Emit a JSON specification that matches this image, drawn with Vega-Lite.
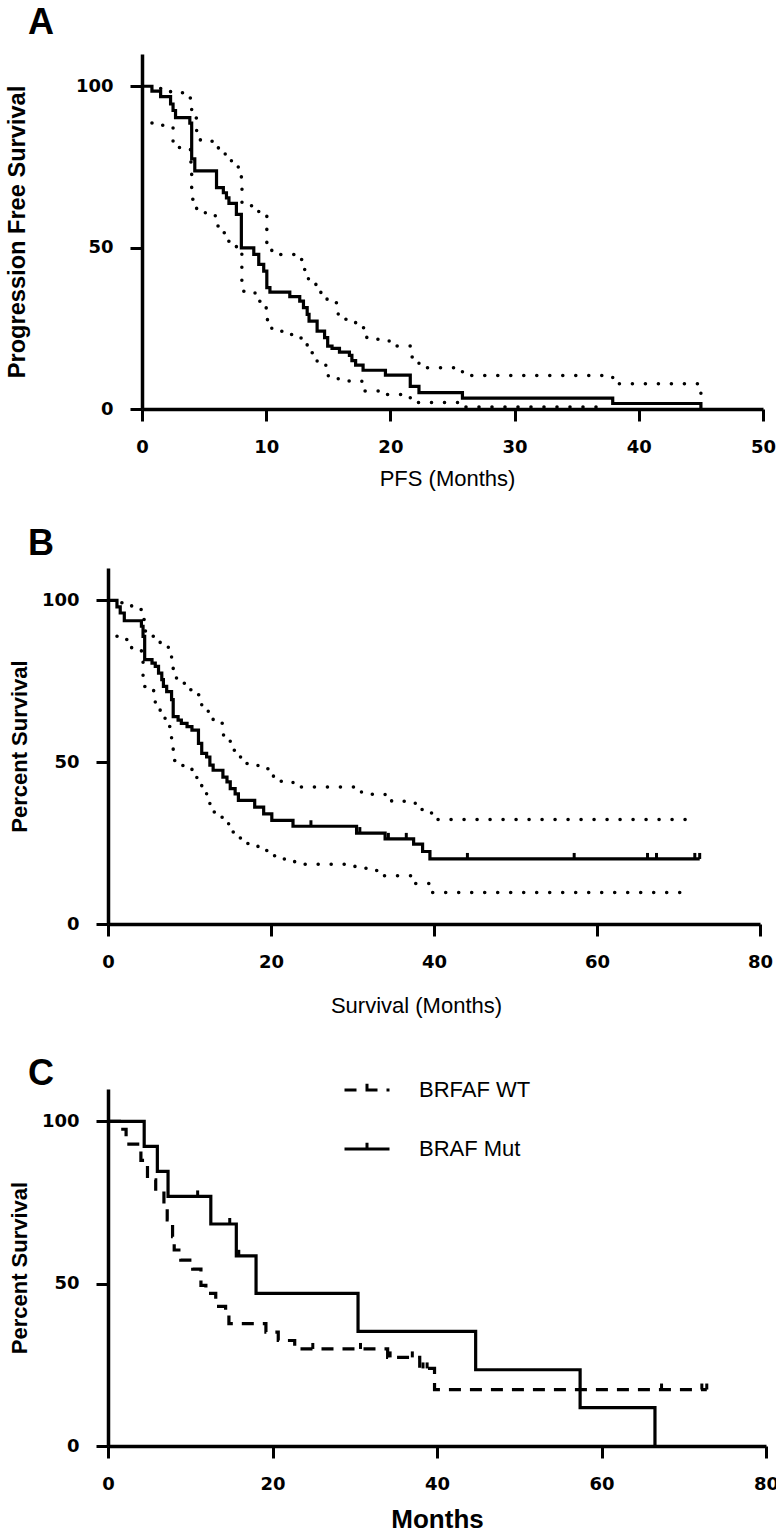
{
  "$schema": "https://vega.github.io/schema/vega-lite/v6.json",
  "background": "white",
  "padding": {"left": 5, "top": 5, "right": 5, "bottom": 5},
  "bounds": "flush",
  "spacing": 159,
  "resolve": {"legend": {"strokeDash": "independent"}},
  "config": {
    "view": {"stroke": null},
    "axis": {
      "grid": false,
      "domainColor": "black",
      "domainWidth": 3.5,
      "tickColor": "black",
      "tickWidth": 3,
      "tickSize": 12,
      "labelFont": "DejaVu Sans",
      "labelFontWeight": "bold",
      "labelFontSize": 18,
      "labelColor": "black",
      "labelPadding": 17,
      "labelFlush": false,
      "titleColor": "black",
      "titleFont": "Liberation Sans",
      "titleFontSize": 22
    },
    "title": {"font": "Liberation Sans", "fontWeight": "bold", "fontSize": 36, "anchor": "start", "color": "black", "baseline": "alphabetic", "frame": "group"}
  },
  "vconcat": [
    {
      "width": 655,
      "height": 355,
      "title": {"text": "A", "dx": -80, "offset": 12},
      "data": {"values": [
        {"c":"km","t":0,"s":100},{"c":"km","t":0.8,"s":98.5},{"c":"km","t":1.5,"s":96.8},{"c":"km","t":2.3,"s":94.5},{"c":"km","t":2.5,"s":92.5},{"c":"km","t":2.7,"s":90.3},{"c":"km","t":3.85,"s":88.6},{"c":"km","t":4.0,"s":77.5},{"c":"km","t":4.25,"s":73.8},{"c":"km","t":6.0,"s":68.6},{"c":"km","t":6.55,"s":67},{"c":"km","t":6.8,"s":65.4},{"c":"km","t":7.0,"s":63.7},{"c":"km","t":7.6,"s":60.3},{"c":"km","t":8.0,"s":49.9},{"c":"km","t":9.0,"s":47.9},{"c":"km","t":9.4,"s":44.8},{"c":"km","t":9.8,"s":42.7},{"c":"km","t":10.05,"s":37.6},{"c":"km","t":10.3,"s":36.2},{"c":"km","t":11.9,"s":34.8},{"c":"km","t":12.7,"s":33.4},{"c":"km","t":13.0,"s":31.4},{"c":"km","t":13.3,"s":29.3},{"c":"km","t":13.45,"s":27.2},{"c":"km","t":14.1,"s":24.1},{"c":"km","t":14.7,"s":22.1},{"c":"km","t":14.95,"s":19.5},{"c":"km","t":15.3,"s":18.8},{"c":"km","t":15.9,"s":17.6},{"c":"km","t":16.7,"s":16.6},{"c":"km","t":16.9,"s":15},{"c":"km","t":17.2,"s":13.6},{"c":"km","t":17.8,"s":12},{"c":"km","t":19.6,"s":10.5},{"c":"km","t":21.6,"s":7},{"c":"km","t":22.3,"s":5.1},{"c":"km","t":25.8,"s":3.4},{"c":"km","t":37.9,"s":1.7},{"c":"km","t":45,"s":0},
        {"c":"up","t":1.5,"s":99.3},{"c":"up","t":2.3,"s":98},{"c":"up","t":3.3,"s":96.4},{"c":"up","t":3.9,"s":94},{"c":"up","t":4.0,"s":90.2},{"c":"up","t":4.4,"s":85.5},{"c":"up","t":4.7,"s":83},{"c":"up","t":6.15,"s":80.9},{"c":"up","t":6.7,"s":78.8},{"c":"up","t":7.2,"s":76.8},{"c":"up","t":7.75,"s":74.7},{"c":"up","t":8.0,"s":71},{"c":"up","t":8.05,"s":63},{"c":"up","t":8.85,"s":61.3},{"c":"up","t":9.4,"s":59.8},{"c":"up","t":10.05,"s":51},{"c":"up","t":10.45,"s":47.9},{"c":"up","t":12.5,"s":46.3},{"c":"up","t":13.1,"s":41.7},{"c":"up","t":13.4,"s":39.1},{"c":"up","t":14.0,"s":38.1},{"c":"up","t":14.4,"s":35.5},{"c":"up","t":14.9,"s":32.9},{"c":"up","t":15.8,"s":27.8},{"c":"up","t":17.2,"s":25.2},{"c":"up","t":18.1,"s":21.6},{"c":"up","t":19.9,"s":19.5},{"c":"up","t":21.6,"s":16.1},{"c":"up","t":22.3,"s":12.8},{"c":"up","t":25.8,"s":10.4},{"c":"up","t":37.9,"s":7.8},{"c":"up","t":45,"s":4.5},
        {"c":"lo","t":0.8,"s":88.6},{"c":"lo","t":1.45,"s":87.9},{"c":"lo","t":2.1,"s":87.1},{"c":"lo","t":2.5,"s":81},{"c":"lo","t":3.9,"s":76.5},{"c":"lo","t":4.0,"s":65},{"c":"lo","t":4.4,"s":61.3},{"c":"lo","t":5.1,"s":60.3},{"c":"lo","t":5.9,"s":56.7},{"c":"lo","t":6.56,"s":54.6},{"c":"lo","t":6.96,"s":52},{"c":"lo","t":7.6,"s":48.6},{"c":"lo","t":8.04,"s":36.5},{"c":"lo","t":9.1,"s":33.4},{"c":"lo","t":10.0,"s":29.8},{"c":"lo","t":10.1,"s":26.7},{"c":"lo","t":10.45,"s":24.1},{"c":"lo","t":11.9,"s":23.1},{"c":"lo","t":12.5,"s":22},{"c":"lo","t":13.0,"s":20},{"c":"lo","t":13.3,"s":17.4},{"c":"lo","t":14.1,"s":13.8},{"c":"lo","t":14.8,"s":12.7},{"c":"lo","t":15.0,"s":10.2},{"c":"lo","t":15.8,"s":8.7},{"c":"lo","t":17.7,"s":5.6},{"c":"lo","t":19.6,"s":4.5},{"c":"lo","t":21.6,"s":2},{"c":"lo","t":25.8,"s":0.6},{"c":"lo","t":37.5,"s":0.6}
      ]},
      "encoding": {
        "x": {"field": "t", "type": "quantitative", "scale": {"domain": [0, 50], "range": [34, 655], "nice": false, "zero": false},
              "axis": {"values": [0, 10, 20, 30, 40, 50], "title": "PFS (Months)", "titleFontWeight": "normal", "titlePadding": 12, "titleX": 339}},
        "y": {"field": "s", "type": "quantitative", "scale": {"domain": [0, 110], "nice": false},
              "axis": {"values": [0, 50, 100], "title": "Progression Free Survival", "titleFontWeight": "bold", "titleFontSize": 23.6, "titlePadding": 46, "offset": -34}}
      },
      "layer": [
        {"transform": [{"filter": "datum.c === 'up'"}], "mark": {"type": "line", "interpolate": "step-after", "color": "black", "strokeWidth": 3.5, "strokeDash": [0.1, 12.9], "strokeCap": "round"}},
        {"transform": [{"filter": "datum.c === 'lo'"}], "mark": {"type": "line", "interpolate": "step-after", "color": "black", "strokeWidth": 3.5, "strokeDash": [0.1, 12.9], "strokeCap": "round"}},
        {"transform": [{"filter": "datum.c === 'km'"}], "mark": {"type": "line", "interpolate": "step-after", "color": "black", "strokeWidth": 3.2}}
      ]
    },
    {
      "width": 652,
      "height": 356,
      "title": {"text": "B", "dx": -80, "offset": 5},
      "data": {"values": [
        {"c":"km","t":0,"s":100},{"c":"km","t":1.1,"s":98},{"c":"km","t":1.5,"s":96.1},{"c":"km","t":2.0,"s":93.7},{"c":"km","t":4.1,"s":92},{"c":"km","t":4.3,"s":88.9},{"c":"km","t":4.5,"s":81.7},{"c":"km","t":5.4,"s":80.6},{"c":"km","t":5.8,"s":79.6},{"c":"km","t":6.2,"s":77.5},{"c":"km","t":6.6,"s":75.5},{"c":"km","t":6.8,"s":73.4},{"c":"km","t":7.2,"s":71.8},{"c":"km","t":7.8,"s":69.3},{"c":"km","t":8.0,"s":64.1},{"c":"km","t":8.6,"s":63},{"c":"km","t":9.0,"s":62},{"c":"km","t":9.7,"s":61},{"c":"km","t":10.3,"s":59.9},{"c":"km","t":11.1,"s":55.8},{"c":"km","t":11.5,"s":52.7},{"c":"km","t":12.1,"s":51.6},{"c":"km","t":12.5,"s":49.1},{"c":"km","t":12.9,"s":47.5},{"c":"km","t":14.1,"s":45.4},{"c":"km","t":14.6,"s":43.9},{"c":"km","t":15.0,"s":41.8},{"c":"km","t":15.6,"s":40.2},{"c":"km","t":16.0,"s":38.2},{"c":"km","t":18.0,"s":36.1},{"c":"km","t":19.1,"s":34},{"c":"km","t":20.1,"s":32},{"c":"km","t":22.7,"s":30.2},{"c":"km","t":30.5,"s":28.1},{"c":"km","t":34.0,"s":26.3},{"c":"km","t":37.5,"s":24.7},{"c":"km","t":38.6,"s":22.4},{"c":"km","t":39.5,"s":20.1},{"c":"km","t":72.6,"s":20.1},
        {"c":"cen","t":24.9,"s":30.2},{"c":"cen","t":30.9,"s":28.1},{"c":"cen","t":34.4,"s":26.3},{"c":"cen","t":36.6,"s":26.3},{"c":"cen","t":44.1,"s":20.1},{"c":"cen","t":57.2,"s":20.1},{"c":"cen","t":66.2,"s":20.1},{"c":"cen","t":67.3,"s":20.1},{"c":"cen","t":72.0,"s":20.1},{"c":"cen","t":72.6,"s":20.1},
        {"c":"up","t":1.7,"s":99.3},{"c":"up","t":2.9,"s":97.2},{"c":"up","t":4.1,"s":96.2},{"c":"up","t":4.3,"s":94.1},{"c":"up","t":4.5,"s":90.5},{"c":"up","t":5.4,"s":88.9},{"c":"up","t":6.4,"s":86.3},{"c":"up","t":7.4,"s":83.8},{"c":"up","t":7.8,"s":81.2},{"c":"up","t":8.0,"s":76},{"c":"up","t":8.6,"s":74.4},{"c":"up","t":9.7,"s":72.4},{"c":"up","t":10.9,"s":70.8},{"c":"up","t":11.3,"s":68.2},{"c":"up","t":11.5,"s":66.1},{"c":"up","t":12.3,"s":64.1},{"c":"up","t":12.9,"s":62},{"c":"up","t":14.1,"s":58.4},{"c":"up","t":15.0,"s":56.3},{"c":"up","t":15.2,"s":53.7},{"c":"up","t":16.0,"s":51.6},{"c":"up","t":16.6,"s":49.6},{"c":"up","t":18.4,"s":48},{"c":"up","t":19.7,"s":46},{"c":"up","t":20.3,"s":44.1},{"c":"up","t":22.7,"s":42.3},{"c":"up","t":30.3,"s":41.5},{"c":"up","t":31.1,"s":40.1},{"c":"up","t":34.0,"s":39.2},{"c":"up","t":34.8,"s":37.9},{"c":"up","t":37.7,"s":37.2},{"c":"up","t":38.5,"s":35.4},{"c":"up","t":39.5,"s":34.3},{"c":"up","t":40.1,"s":32.3},{"c":"up","t":72.3,"s":32.3},
        {"c":"lo","t":1.1,"s":88.9},{"c":"lo","t":1.7,"s":87.9},{"c":"lo","t":2.9,"s":84.8},{"c":"lo","t":4.1,"s":82.2},{"c":"lo","t":4.3,"s":76},{"c":"lo","t":4.5,"s":73.4},{"c":"lo","t":5.6,"s":70.8},{"c":"lo","t":5.8,"s":68.2},{"c":"lo","t":6.4,"s":65.1},{"c":"lo","t":7.0,"s":61},{"c":"lo","t":7.8,"s":57},{"c":"lo","t":8.0,"s":50.5},{"c":"lo","t":8.8,"s":49},{"c":"lo","t":10.3,"s":47.5},{"c":"lo","t":10.7,"s":45.4},{"c":"lo","t":10.9,"s":43.4},{"c":"lo","t":11.5,"s":41},{"c":"lo","t":12.1,"s":39},{"c":"lo","t":12.5,"s":37},{"c":"lo","t":12.9,"s":34.6},{"c":"lo","t":13.5,"s":33},{"c":"lo","t":14.1,"s":32},{"c":"lo","t":14.8,"s":28.4},{"c":"lo","t":15.6,"s":26.6},{"c":"lo","t":16.4,"s":24.9},{"c":"lo","t":18.4,"s":22.7},{"c":"lo","t":20.1,"s":21.1},{"c":"lo","t":21.3,"s":20.1},{"c":"lo","t":22.9,"s":18.5},{"c":"lo","t":30.3,"s":17.2},{"c":"lo","t":31.7,"s":16.5},{"c":"lo","t":33.6,"s":14.9},{"c":"lo","t":37.7,"s":12.5},{"c":"lo","t":39.5,"s":9.7},{"c":"lo","t":71.4,"s":9.7}
      ]},
      "encoding": {
        "x": {"field": "t", "type": "quantitative", "scale": {"domain": [0, 80], "nice": false, "zero": false},
              "axis": {"values": [0, 20, 40, 60, 80], "title": "Survival (Months)", "titleFontWeight": "normal", "titlePadding": 24, "titleX": 308}},
        "y": {"field": "s", "type": "quantitative", "scale": {"domain": [0, 110], "nice": false},
              "axis": {"values": [0, 50, 100], "title": "Percent Survival", "titleFontWeight": "bold", "titleFontSize": 22, "titlePadding": 10}}
      },
      "layer": [
        {"transform": [{"filter": "datum.c === 'up'"}], "mark": {"type": "line", "interpolate": "step-after", "color": "black", "strokeWidth": 3.5, "strokeDash": [0.1, 12.9], "strokeCap": "round"}},
        {"transform": [{"filter": "datum.c === 'lo'"}], "mark": {"type": "line", "interpolate": "step-after", "color": "black", "strokeWidth": 3.5, "strokeDash": [0.1, 12.9], "strokeCap": "round"}},
        {"transform": [{"filter": "datum.c === 'km'"}], "mark": {"type": "line", "interpolate": "step-after", "color": "black", "strokeWidth": 3.2}},
        {"transform": [{"filter": "datum.c === 'cen'"}], "mark": {"type": "point", "shape": "M0,0V-1", "size": 144, "filled": false, "stroke": "black", "strokeWidth": 3, "opacity": 1}}
      ]
    },
    {
      "width": 658,
      "height": 363,
      "title": {"text": "C", "dx": -80, "offset": -27},
      "data": {"values": [
        {"g":"BRAF Mut","c":"km","t":0,"s":100},{"g":"BRAF Mut","c":"km","t":4.4,"s":92.3},{"g":"BRAF Mut","c":"km","t":6.0,"s":84.6},{"g":"BRAF Mut","c":"km","t":7.3,"s":76.9},{"g":"BRAF Mut","c":"km","t":12.5,"s":68.4},{"g":"BRAF Mut","c":"km","t":15.6,"s":58.6},{"g":"BRAF Mut","c":"km","t":18.0,"s":47},{"g":"BRAF Mut","c":"km","t":30.4,"s":35.3},{"g":"BRAF Mut","c":"km","t":44.7,"s":23.5},{"g":"BRAF Mut","c":"km","t":57.4,"s":11.8},{"g":"BRAF Mut","c":"km","t":66.5,"s":0},
        {"g":"BRAF Mut","c":"cen","t":10.9,"s":76.9},{"g":"BRAF Mut","c":"cen","t":14.8,"s":68.4},{"g":"BRAF Mut","c":"cen","t":15.9,"s":58.6},
        {"g":"BRFAF WT","c":"km","t":0,"s":100},{"g":"BRFAF WT","c":"km","t":1.4,"s":97.6},{"g":"BRFAF WT","c":"km","t":2.2,"s":93},{"g":"BRFAF WT","c":"km","t":4.0,"s":88},{"g":"BRFAF WT","c":"km","t":4.8,"s":82},{"g":"BRFAF WT","c":"km","t":5.8,"s":78.5},{"g":"BRFAF WT","c":"km","t":6.8,"s":74},{"g":"BRFAF WT","c":"km","t":7.2,"s":69.7},{"g":"BRFAF WT","c":"km","t":7.85,"s":64.5},{"g":"BRFAF WT","c":"km","t":8.05,"s":60.4},{"g":"BRFAF WT","c":"km","t":8.85,"s":57.3},{"g":"BRFAF WT","c":"km","t":10.3,"s":54.5},{"g":"BRFAF WT","c":"km","t":11.3,"s":49.5},{"g":"BRFAF WT","c":"km","t":11.9,"s":47},{"g":"BRFAF WT","c":"km","t":13.1,"s":43},{"g":"BRFAF WT","c":"km","t":14.3,"s":40.8},{"g":"BRFAF WT","c":"km","t":14.7,"s":37.7},{"g":"BRFAF WT","c":"km","t":19.2,"s":35.1},{"g":"BRFAF WT","c":"km","t":20.7,"s":32.5},{"g":"BRFAF WT","c":"km","t":22.7,"s":29.9},{"g":"BRFAF WT","c":"km","t":34.0,"s":27.3},{"g":"BRFAF WT","c":"km","t":37.9,"s":23.9},{"g":"BRFAF WT","c":"km","t":39.7,"s":17.4},{"g":"BRFAF WT","c":"km","t":72.8,"s":17.4},
        {"g":"BRFAF WT","c":"cen","t":24.9,"s":29.9},{"g":"BRFAF WT","c":"cen","t":30.7,"s":29.9},{"g":"BRFAF WT","c":"cen","t":34.3,"s":27.3},{"g":"BRFAF WT","c":"cen","t":37.0,"s":27.3},{"g":"BRFAF WT","c":"cen","t":38.3,"s":23.9},{"g":"BRFAF WT","c":"cen","t":38.8,"s":23.9},{"g":"BRFAF WT","c":"cen","t":67.3,"s":17.4},{"g":"BRFAF WT","c":"cen","t":72.2,"s":17.4},{"g":"BRFAF WT","c":"cen","t":72.8,"s":17.4}
      ]},
      "encoding": {
        "x": {"field": "t", "type": "quantitative", "scale": {"domain": [0, 80], "nice": false, "zero": false},
              "axis": {"values": [0, 20, 40, 60, 80], "title": "Months", "titleFont": "Liberation Sans", "titleFontWeight": "bold", "titleFontSize": 26, "titlePadding": 13}},
        "y": {"field": "s", "type": "quantitative", "scale": {"domain": [0, 110], "range": [363, 6], "nice": false},
              "axis": {"values": [0, 50, 100], "title": "Percent Survival", "titleFontWeight": "bold", "titleFontSize": 22, "titlePadding": 10}}
      },
      "layer": [
        {"transform": [{"filter": "datum.c === 'km'"}],
         "mark": {"type": "line", "interpolate": "step-after", "color": "black", "strokeWidth": 3.2},
         "encoding": {
           "strokeDash": {"field": "g", "type": "nominal",
             "scale": {"domain": ["BRFAF WT", "BRAF Mut"], "range": [[12, 9], [1, 0]]},
             "legend": {"orient": "none", "legendX": 235, "legendY": -17, "title": null, "padding": 0,
               "symbolType": "M-1,0H1M0,0V-0.28", "symbolSize": 2025, "symbolStrokeWidth": 3, "symbolStrokeColor": "black", "symbolFillColor": "transparent",
               "labelFont": "Liberation Sans", "labelFontSize": 22, "labelColor": "black", "labelOffset": 28, "rowPadding": 24}}
         }},
        {"transform": [{"filter": "datum.c === 'cen'"}], "mark": {"type": "point", "shape": "M0,0V-1", "size": 144, "filled": false, "stroke": "black", "strokeWidth": 3, "opacity": 1}}
      ]
    }
  ]
}
